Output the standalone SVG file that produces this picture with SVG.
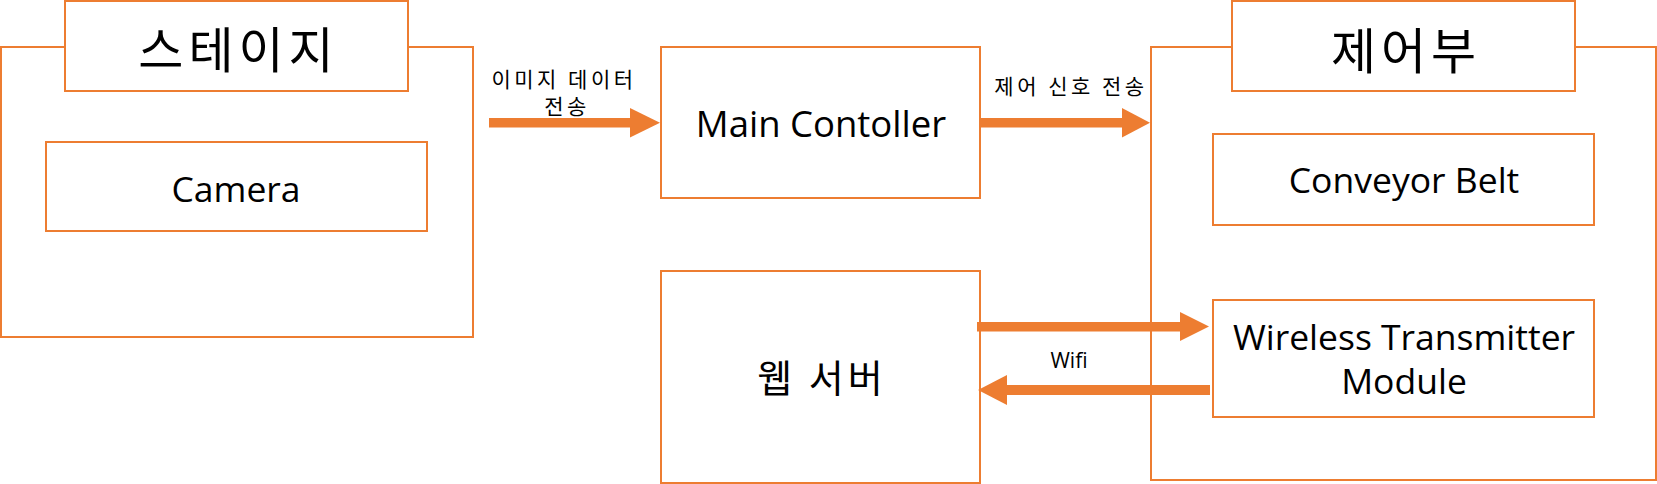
<svg xmlns="http://www.w3.org/2000/svg" width="1657" height="484" viewBox="0 0 1657 484">
<style>
.box{fill:#fff;stroke:#ED7D31;stroke-width:2}
.arr{fill:#ED7D31;stroke:none}
.lat{font-family:"Open Sans","Noto Sans CJK KR",sans-serif;fill:#000;text-anchor:middle;font-size:35.5px}
.kor{font-family:"Noto Sans CJK KR",sans-serif;fill:#000;text-anchor:middle;dominant-baseline:central}
.ttl{font-size:49px;letter-spacing:5px}
.lbl{font-size:21px;letter-spacing:3.5px}
</style>
<rect width="1657" height="484" fill="#fff"/>
<g id="stage">
<rect class="box" x="1" y="47" width="472" height="290"/>
<rect class="box" x="65" y="1" width="343" height="90"/>
<text class="kor ttl" x="238.5" y="46">스테이지</text>
</g>
<g id="camera">
<rect class="box" x="46" y="142" width="381" height="89"/>
<text class="lat" x="236" y="202">Camera</text>
</g>
<g id="main-controller">
<rect class="box" x="661" y="47" width="319" height="151"/>
<text class="lat" x="821" y="137" style="font-size:36.5px">Main Contoller</text>
</g>
<g id="web-server">
<rect class="box" x="661" y="271" width="319" height="212"/>
<text class="kor" x="822" y="375" font-size="38" letter-spacing="4">웹 서버</text>
</g>
<g id="control">
<rect class="box" x="1151" y="47" width="505" height="433"/>
<rect class="box" x="1232" y="1" width="343" height="90"/>
<text class="kor ttl" x="1406" y="47">제어부</text>
</g>
<g id="conveyor-belt">
<rect class="box" x="1213" y="134" width="381" height="91"/>
<text class="lat" x="1404" y="193">Conveyor Belt</text>
</g>
<g id="wireless">
<rect class="box" x="1213" y="300" width="381" height="117"/>
<text class="lat" x="1404" y="350">Wireless Transmitter</text>
<text class="lat" x="1404" y="394">Module</text>
</g>
<g id="connectors">
<rect class="arr" x="489" y="118" width="142" height="9.5"/>
<polygon class="arr" points="630,108 660,122.75 630,137.5"/>
<text class="kor lbl" x="564" y="77.5">이미지 데이터</text>
<text class="kor lbl" x="567" y="105">전송</text>
<rect class="arr" x="980" y="118" width="143" height="9.5"/>
<polygon class="arr" points="1122,108 1150,122.75 1122,137.5"/>
<text class="kor lbl" x="1071" y="85">제어 신호 전송</text>
<rect class="arr" x="977" y="322" width="204" height="9.5"/>
<polygon class="arr" points="1180,312 1209,326.5 1180,341"/>
<rect class="arr" x="1006" y="385" width="204" height="10"/>
<polygon class="arr" points="1007,375 978,390 1007,405"/>
<text class="lat" x="1069" y="368" style="font-size:21px">Wifi</text>
</g>
</svg>
